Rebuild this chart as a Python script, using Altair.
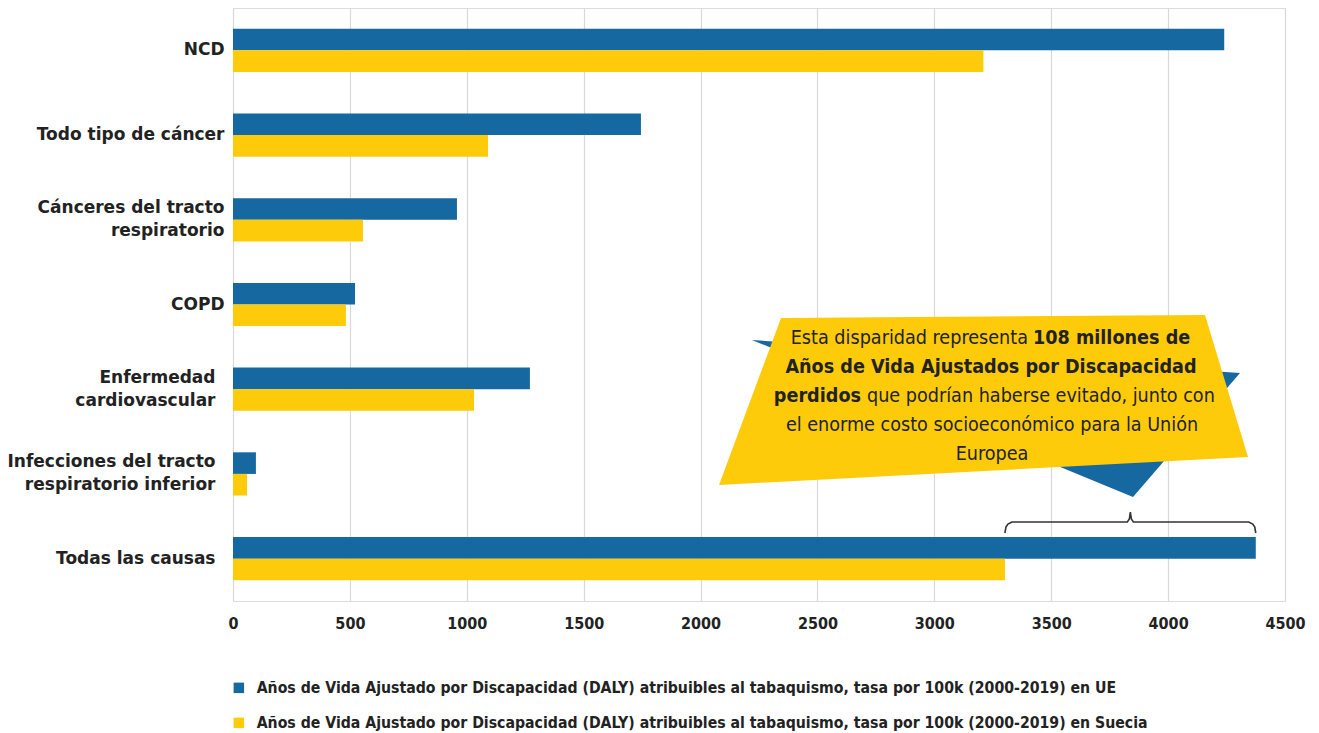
import altair as alt
import pandas as pd
import numpy as np

# ---------------- data ----------------
categories = [
    "NCD",
    "Todo tipo de cáncer",
    "Cánceres del tracto\nrespiratorio",
    "COPD",
    "Enfermedad\ncardiovascular",
    "Infecciones del tracto\nrespiratorio inferior",
    "Todas las causas",
]
series = [
    "Años de Vida Ajustado por Discapacidad (DALY) atribuibles al tabaquismo, tasa por 100k (2000-2019) en UE",
    "Años de Vida Ajustado por Discapacidad (DALY) atribuibles al tabaquismo, tasa por 100k (2000-2019) en Suecia",
]
ue_values = [4240, 1745, 958, 522, 1270, 98, 4375]
se_values = [3210, 1091, 556, 483, 1031, 60, 3302]
x_ticks = [0, 500, 1000, 1500, 2000, 2500, 3000, 3500, 4000, 4500]

BLUE = "#1668A0"
YELLOW = "#FDCB0A"
TEXT = "#222222"
LABEL_FONT = "DejaVu Sans"
COND_FONT = "DejaVu Sans Condensed"

rows = []
for c, a, b in zip(categories, ue_values, se_values):
    rows.append({"cat": c, "series": series[0], "value": a})
    rows.append({"cat": c, "series": series[1], "value": b})
df = pd.DataFrame(rows)

W, H = 1052, 593
OX, OY = 233, 8  # plot origin in the page

bars = alt.Chart(df).mark_bar().encode(
    x=alt.X("value:Q", scale=alt.Scale(domain=[0, 4500], nice=False),
            axis=alt.Axis(values=x_ticks, format="d", title=None, domain=False, ticks=False,
                          grid=True, gridColor="#d9d9d9", gridWidth=1.2,
                          labelFont=COND_FONT, labelFontWeight="bold", labelFontSize=16,
                          labelColor=TEXT, labelPadding=14, labelFlush=False)),
    y=alt.Y("cat:N", sort=categories,
            scale=alt.Scale(paddingInner=0.49, paddingOuter=0.245),
            axis=alt.Axis(title=None, domain=False, ticks=False, grid=False,
                          labelFont=LABEL_FONT, labelFontWeight="bold", labelFontSize=17,
                          labelColor=TEXT, labelLimit=400,
                          labelLineHeight=23,
                          labelOffset={"condition": {"test": "indexof(datum.value, '\\n') >= 0",
                                                     "value": -11.5}, "value": 0},
                          labelPadding={"condition": {"test": "datum.value == 'Todas las causas' || indexof(datum.value, 'Enfermedad') >= 0 || indexof(datum.value, 'Infecciones') >= 0",
                                                      "value": 18}, "value": 9},
                          labelExpr="split(datum.label, '\\n')")),
    yOffset=alt.YOffset("series:N", sort=series,
                        scale=alt.Scale(paddingInner=0, paddingOuter=0)),
    color=alt.Color("series:N", sort=series,
                    scale=alt.Scale(domain=series, range=[BLUE, YELLOW]),
                    legend=alt.Legend(orient="none", legendX=-2, legendY=672, title=None,
                                      direction="vertical", symbolType="square",
                                      symbolSize=110, symbolStrokeWidth=0,
                                      labelFont=COND_FONT, labelFontWeight="bold",
                                      labelFontSize=15.7, labelColor=TEXT, labelLimit=1200,
                                      labelOffset=10, rowPadding=18, padding=0)),
)

# ---------------- callout shapes (page pixels -> plot pixels) ----------------
def area_from_poly(top_pts, bottom_pts):
    xs = sorted(set([p[0] for p in top_pts] + [p[0] for p in bottom_pts]))
    tx, ty = zip(*top_pts)
    bx, by = zip(*bottom_pts)
    return pd.DataFrame({
        "px": [x - OX for x in xs],
        "py": [np.interp(x, tx, ty) - OY for x in xs],
        "py2": [np.interp(x, bx, by) - OY for x in xs],
    })

tri = area_from_poly([(752, 340), (1240, 373)], [(752, 340), (1133, 497), (1240, 373)])
quad = area_from_poly([(719, 485), (781, 318), (1205, 315), (1248, 457)],
                      [(719, 485), (1248, 457)])

def shape(d, color):
    return alt.Chart(d).mark_area(color=color, opacity=1, interpolate="linear").encode(
        x=alt.X("px:Q", scale=None, axis=None),
        y=alt.Y("py:Q", scale=None, axis=None),
        y2="py2:Q",
    )

tri_layer = shape(tri, BLUE)
quad_layer = shape(quad, YELLOW)

note = pd.DataFrame([
    {"px": 1028, "py": 338, "t": "Esta disparidad representa", "w": "normal", "a": "right"},
    {"px": 1033, "py": 338, "t": "108 millones de", "w": "bold", "a": "left"},
    {"px": 991, "py": 367, "t": "Años de Vida Ajustados por Discapacidad", "w": "bold", "a": "center"},
    {"px": 861, "py": 396, "t": "perdidos", "w": "bold", "a": "right"},
    {"px": 867, "py": 396, "t": "que podrían haberse evitado, junto con", "w": "normal", "a": "left"},
    {"px": 992, "py": 425, "t": "el enorme costo socioeconómico para la Unión", "w": "normal", "a": "center"},
    {"px": 992, "py": 454, "t": "Europea", "w": "normal", "a": "center"},
])
note["px"] = note["px"] - OX
note["py"] = note["py"] - OY

text_layers = []
for (w, a), sub in note.groupby(["w", "a"]):
    text_layers.append(
        alt.Chart(sub).mark_text(font=COND_FONT, fontSize=19.6, fontWeight=w, align=a,
                                 baseline="middle", color=TEXT).encode(
            x=alt.X("px:Q", scale=None, axis=None),
            y=alt.Y("py:Q", scale=None, axis=None),
            text="t:N",
        )
    )

# ---------------- brace between SE and UE "Todas las causas" ----------------
left = se_values[-1]
right = ue_values[-1]
mid = (left + right) / 2
u = 1 / 0.2338  # data units per pixel
brace = pd.DataFrame({
    "x": [left, left + 1 * u, left + 3 * u, left + 7 * u, mid - 3 * u, mid - 1 * u, mid,
          mid + 1 * u, mid + 3 * u, right - 7 * u, right - 3 * u, right - 1 * u, right],
    "py": [533, 527, 524, 522, 522, 519, 512, 519, 522, 522, 524, 527, 533],
    "o": list(range(13)),
})
brace["py"] = brace["py"] - OY
brace_layer = alt.Chart(brace).mark_line(color="#333333", strokeWidth=1.6).encode(
    x=alt.X("x:Q", scale=alt.Scale(domain=[0, 4500], nice=False), axis=None),
    y=alt.Y("py:Q", scale=None, axis=None),
    order="o:Q",
)

chart = alt.layer(bars, brace_layer, tri_layer, quad_layer, *text_layers).resolve_scale(
    x="independent", y="independent"
).properties(
    width=W, height=H,
    autosize=alt.AutoSizeParams(type="none"),
    padding={"left": OX, "top": OY, "right": 1319 - OX - W, "bottom": 733 - OY - H},
).configure_view(stroke=None).configure(background="white")

chart.save("out.html", embed_options={"renderer": "svg", "actions": False})
